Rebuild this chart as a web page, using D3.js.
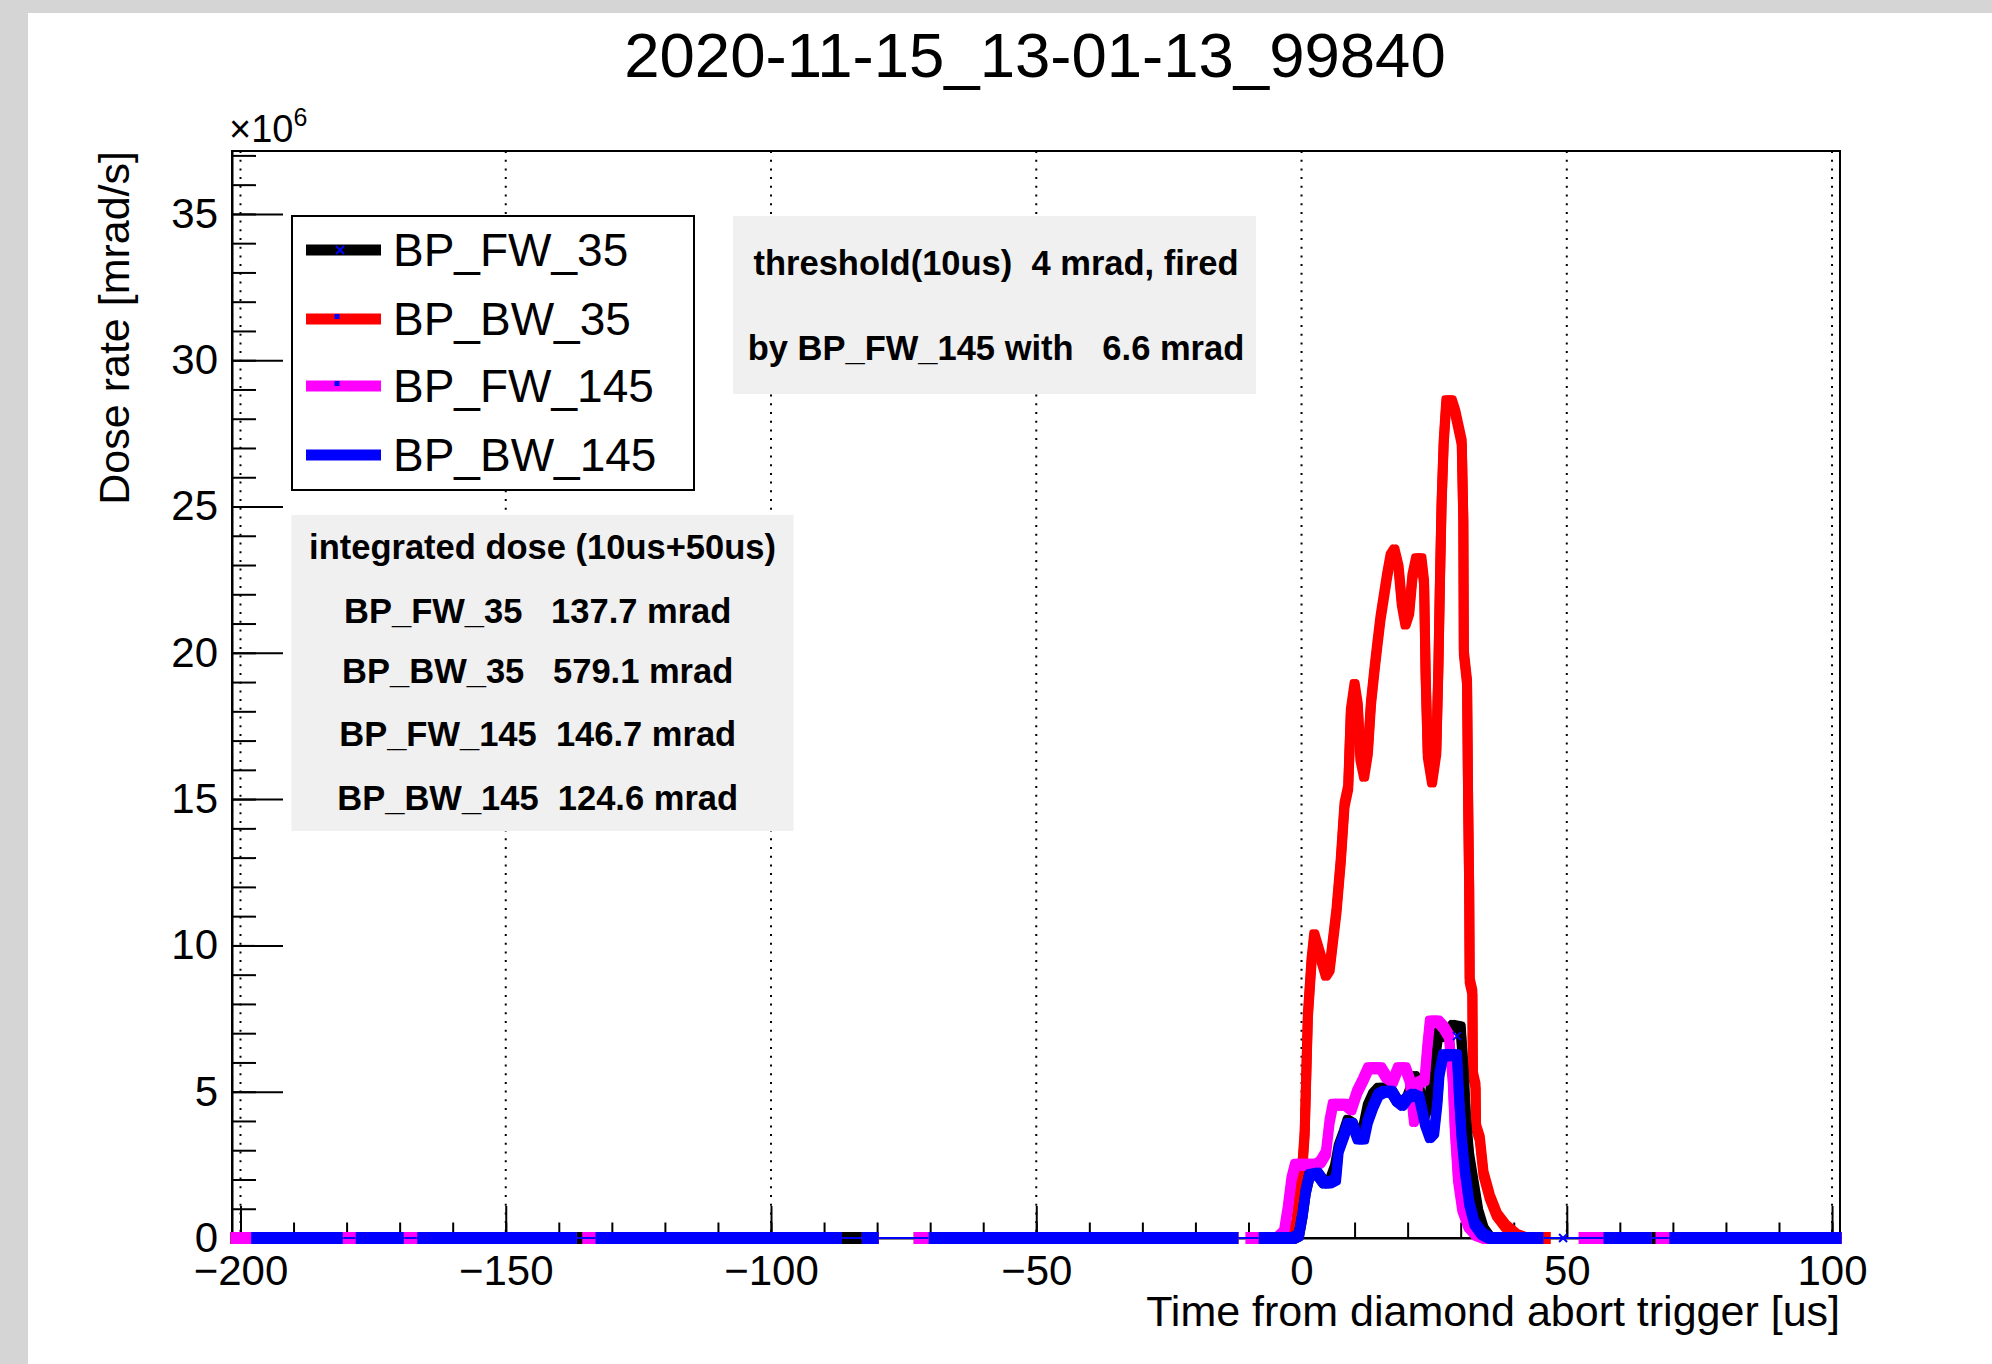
<!DOCTYPE html>
<html>
<head>
<meta charset="utf-8">
<script src="https://cdn.jsdelivr.net/npm/d3@7"></script>
<style>
  html, body { margin: 0; padding: 0; background: #d5d5d5; }
  svg { display: block; }
  text { font-family: "Liberation Sans", Arial, Helvetica, sans-serif; }
</style>
</head>
<body>
<svg id="chart" width="1992" height="1364"></svg>
<script>
// ---- labels ----
const chartTitle = "2020-11-15_13-01-13_99840";
const xTitle = "Time from diamond abort trigger [us]";
const yTitle = "Dose rate [mrad/s]";
const seriesNames = ["BP_FW_35", "BP_BW_35", "BP_FW_145", "BP_BW_145"];
const seriesColors = ["#000000", "#ff0000", "#ff00ff", "#0000ff"];
const xTicks = [-200, -150, -100, -50, 0, 50, 100];
const yTicks = [0, 5, 10, 15, 20, 25, 30, 35];
const thresholdLines = ["threshold(10us)  4 mrad, fired", "by BP_FW_145 with   6.6 mrad"];
const doseLines = [
  "integrated dose (10us+50us)",
  "BP_FW_35   137.7 mrad ",
  "BP_BW_35   579.1 mrad ",
  "BP_FW_145  146.7 mrad ",
  "BP_BW_145  124.6 mrad "
];

// ---- dose rate [10^6 mrad/s] vs time [us]; null marks a dropout ----
const bpFw35 = [
  [-201.6, 0], [-80, 0], [-76, null], [-72.8, 0], [-12.2, 0], [-10, null], [-7.8, 0],
  [-1.5, 0], [-0.5, 0.1], [0.2, 0.8], [0.8, 1.6], [1.5, 2.15], [3.0, 2.2], [4.2, 1.9],
  [5.4, 1.95], [6.3, 2.4], [7.0, 3.1], [8.0, 3.6], [8.7, 4.0], [9.6, 3.9], [10.6, 3.5],
  [11.6, 3.7], [12.5, 4.5], [13.5, 4.9], [14.5, 5.1], [15.6, 5.1], [17.0, 5.0], [18.0, 4.7],
  [19.0, 4.6], [20.0, 4.8], [21.4, 5.5], [22.3, 5.0], [23.2, 4.2], [24.0, 4.6], [25.0, 6.0],
  [25.8, 7.0], [26.5, 6.9], [27.6, 7.0], [28.5, 7.25], [30.0, 7.2], [30.6, 5.5], [31.0, 4.0],
  [31.6, 2.8], [32.5, 1.8], [33.3, 0.9], [34.3, 0.3], [35.5, 0],
  [45.3, 0], [49, null], [53, 0], [101.5, 0]
];
const bpBw35 = [
  [-201.6, 0], [-80, 0], [-76, null], [-72.8, 0], [-12.2, 0], [-10, null], [-7.8, 0],
  [-4, 0], [-2, 0.1], [-1, 0.5], [0.0, 2.0], [0.6, 3.6], [1.2, 7.6], [1.9, 9.5], [2.4, 10.35],
  [3.3, 9.8], [4.6, 9.0], [5.3, 9.2], [6.6, 11.2], [7.4, 12.9], [8.1, 14.8], [8.8, 15.4],
  [9.3, 18.0], [10.0, 18.9], [10.6, 18.2], [11.1, 16.4], [11.8, 15.8], [12.5, 16.6],
  [13.1, 18.3], [13.8, 19.5], [14.3, 20.3], [14.9, 21.2], [15.5, 21.9], [16.1, 22.6],
  [16.8, 23.3], [17.5, 23.5], [18.3, 22.9], [18.9, 21.7], [19.6, 21.0], [20.3, 21.4],
  [20.9, 22.6], [21.6, 23.2], [22.6, 23.2], [23.1, 22.4], [23.4, 19.2], [23.8, 16.5],
  [24.6, 15.6], [25.4, 16.6], [25.8, 19.5], [26.1, 22.5], [26.4, 25.1], [26.8, 27.2],
  [27.3, 28.6], [28.3, 28.6], [29.0, 28.2], [29.6, 27.7], [30.2, 27.2], [30.5, 24.5],
  [30.6, 20.0], [31.2, 19.0], [31.4, 15.0], [31.6, 12.0], [31.7, 8.8], [32.2, 8.4],
  [32.3, 5.6], [32.8, 5.2], [32.9, 3.8], [33.6, 3.4], [34.3, 2.2], [35.5, 1.4], [36.8, 0.8],
  [38.5, 0.4], [40.5, 0.1], [42, 0],
  [46.7, 0], [50, null], [53, 0], [101.5, 0]
];
const bpFw145 = [
  [-201.6, 0], [-136.9, 0], [-136, null], [-135.3, 0], [-86.9, 0], [-85, null], [-82.6, 0],
  [-80, 0], [-76, null], [-72.8, 0], [-12.2, 0], [-11, null], [-10.3, 0],
  [-4.5, 0], [-3.3, 0.2], [-2.6, 1.0], [-1.9, 2.0], [-1.2, 2.5], [2.8, 2.5], [3.6, 2.6],
  [4.6, 2.9], [5.3, 4.0], [5.9, 4.55], [8.4, 4.55], [9.4, 4.4], [10.5, 5.0], [11.6, 5.4],
  [12.6, 5.8], [15.0, 5.8], [16.0, 5.5], [17.2, 5.35], [18.2, 5.8], [19.6, 5.8], [20.4, 5.4],
  [21.2, 4.0], [22.0, 5.3], [23.2, 5.4], [23.7, 6.5], [24.2, 7.4], [25.8, 7.4], [26.8, 7.2],
  [27.8, 6.9], [28.5, 5.4], [28.9, 3.7], [29.5, 2.0], [30.3, 1.0], [31.5, 0.4], [33, 0.1],
  [34.5, 0],
  [45.3, 0], [49, null], [52.5, 0], [65.7, 0], [66.3, null], [67, 0], [101.5, 0]
];
const bpBw145 = [
  [-201.6, null], [-197.7, 0], [-181, 0], [-179.5, null], [-178, 0], [-169.5, 0], [-168, null],
  [-166.4, 0], [-136.9, 0], [-135, null], [-132.8, 0], [-86.9, 0], [-85, null], [-82.6, 0],
  [-80, 0], [-75, null], [-70, 0], [-12.2, 0], [-10, null], [-7.8, 0],
  [-1.5, 0], [-0.5, 0.1], [0.2, 0.8], [0.8, 1.6], [1.5, 2.15], [3.0, 2.2], [4.2, 1.9],
  [5.4, 1.9], [6.5, 2.0], [7.0, 3.0], [8.0, 3.5], [8.7, 3.9], [9.6, 3.9], [10.6, 3.4],
  [11.8, 3.4], [12.5, 4.0], [13.5, 4.5], [14.5, 4.9], [15.6, 5.0], [17.0, 5.0], [18.0, 4.7],
  [19.0, 4.55], [20.0, 4.8], [21.0, 4.9], [22.2, 4.8], [23.3, 3.9], [24.2, 3.45], [25.0, 3.6],
  [25.6, 4.6], [26.0, 5.6], [26.7, 6.25], [29.3, 6.25], [29.7, 4.8], [30.2, 3.4], [30.8, 2.3],
  [31.6, 1.2], [32.6, 0.5], [34, 0.15], [35.5, 0],
  [45.3, 0], [51, null], [57.2, 0], [65.7, 0], [67.5, null], [69.6, 0], [101.5, 0]
];
const seriesData = [bpFw35, bpBw35, bpFw145, bpBw145];
const drawOrder = [1, 0, 2, 3];
// trigger markers on BP_FW_35
const fw35Markers = [[29.3, 6.9], [49.3, 0]];

// ---- layout ----
const W = 1992, H = 1364;
const plot = { left: 232, top: 151, right: 1840, bottom: 1238 };
const svg = d3.select("#chart");

svg.append("rect").attr("width", W).attr("height", H).attr("fill", "#d5d5d5");
svg.append("rect").attr("x", 28).attr("y", 13).attr("width", W - 28).attr("height", H - 13).attr("fill", "#ffffff");

const x = d3.scaleLinear().domain([-201.6, 101.5]).range([plot.left, plot.right]);
const y = d3.scaleLinear().domain([0, 37.15]).range([plot.bottom, plot.top]);

// vertical dotted grid
svg.append("g").selectAll("line").data(xTicks).join("line")
  .attr("x1", d => x(d)).attr("x2", d => x(d))
  .attr("y1", plot.top).attr("y2", plot.bottom)
  .attr("stroke", "#000").attr("stroke-width", 2)
  .attr("stroke-dasharray", "2,6.7");

// frame
svg.append("rect")
  .attr("x", plot.left).attr("y", plot.top)
  .attr("width", plot.right - plot.left).attr("height", plot.bottom - plot.top)
  .attr("fill", "none").attr("stroke", "#000").attr("stroke-width", 2);

function styleAxis(g, size) {
  g.attr("font-size", size).attr("font-family", "'Liberation Sans', Arial, Helvetica, sans-serif");
  g.selectAll("line").attr("stroke", "#000").attr("stroke-width", 2);
  g.selectAll("path.domain").attr("stroke", "#000").attr("stroke-width", 2);
  g.selectAll("text").attr("fill", "#000");
}

// x axis: minor then major ticks
const gxMinor = svg.append("g").attr("transform", `translate(0,${plot.bottom})`)
  .call(d3.axisBottom(x).tickValues(d3.range(-200, 101, 10)).tickSizeInner(-15.5).tickSizeOuter(0).tickFormat(""));
gxMinor.select("path.domain").remove();
styleAxis(gxMinor, 10);

const gx = svg.append("g").attr("transform", `translate(0,${plot.bottom})`)
  .call(d3.axisBottom(x).tickValues(xTicks).tickSizeInner(-32).tickSizeOuter(0)
    .tickPadding(17).tickFormat(d3.format("d")));
styleAxis(gx, 42);

// y axis: minor then major ticks
const gyMinor = svg.append("g").attr("transform", `translate(${plot.left},0)`)
  .call(d3.axisLeft(y).tickValues(d3.range(0, 38, 1)).tickSizeInner(-24).tickSizeOuter(0).tickFormat(""));
gyMinor.select("path.domain").remove();
styleAxis(gyMinor, 10);

const gy = svg.append("g").attr("transform", `translate(${plot.left},0)`)
  .call(d3.axisLeft(y).tickValues(yTicks).tickSizeInner(-51).tickSizeOuter(0)
    .tickPadding(14).tickFormat(d3.format("d")));
styleAxis(gy, 42);

// exponent label
const expo = svg.append("text").attr("x", 229).attr("y", 142).attr("font-size", 38).attr("fill", "#000");
expo.append("tspan").text("\u00d710");
expo.append("tspan").attr("font-size", 25).attr("dy", -16).text("6");

// axis titles
svg.append("text").attr("x", plot.right).attr("y", 1326)
  .attr("text-anchor", "end").attr("font-size", 43).attr("fill", "#000").text(xTitle);
svg.append("text").attr("transform", `translate(129,${plot.top}) rotate(-90)`)
  .attr("text-anchor", "end").attr("font-size", 43).attr("fill", "#000").text(yTitle);

// chart title
svg.append("text").attr("x", 1035).attr("y", 77)
  .attr("text-anchor", "middle").attr("font-size", 63.5).attr("fill", "#000").text(chartTitle);

// ---- series (thick lines drawn with a rectangular pen: four offset strokes) ----
const line = d3.line()
  .defined(d => d[1] !== null)
  .x(d => x(d[0])).y(d => y(d[1]));

const penOffsets = [[-1.5, -2.5], [1.5, -2.5], [-1.5, 2.5], [1.5, 2.5]];
const gSeries = svg.append("g");
drawOrder.forEach(i => {
  const pathD = line(seriesData[i]);
  const gs = gSeries.append("g");
  penOffsets.forEach(([dx, dy]) => {
    gs.append("path")
      .attr("d", pathD)
      .attr("transform", `translate(${dx},${dy})`)
      .attr("fill", "none")
      .attr("stroke", seriesColors[i])
      .attr("stroke-width", 7)
      .attr("stroke-linejoin", "round")
      .attr("stroke-linecap", "butt");
  });
});

// thin connectors across dropouts
drawOrder.forEach(i => {
  let last = null, inGap = false;
  seriesData[i].forEach(d => {
    if (d[1] === null) { inGap = true; return; }
    if (inGap && last) {
      gSeries.append("line")
        .attr("x1", x(last[0]) + 2).attr("y1", y(last[1]))
        .attr("x2", x(d[0]) - 2).attr("y2", y(d[1]))
        .attr("stroke", seriesColors[i]).attr("stroke-width", 2);
    }
    inGap = false; last = d;
  });
});

// markers
const xMark = (cx, cy, r) => `M${cx - r},${cy - r}L${cx + r},${cy + r}M${cx - r},${cy + r}L${cx + r},${cy - r}`;
gSeries.selectAll("path.mk").data(fw35Markers).join("path")
  .attr("class", "mk")
  .attr("d", d => xMark(x(d[0]), y(d[1]), 4))
  .attr("stroke", "#0000ff").attr("stroke-width", 2).attr("fill", "none");

// ---- legend ----
const leg = { x: 292, y: 216, w: 402, h: 274 };
svg.append("rect").attr("x", leg.x).attr("y", leg.y).attr("width", leg.w).attr("height", leg.h)
  .attr("fill", "#fff").attr("stroke", "#000").attr("stroke-width", 2);
const legRows = [250, 319, 386, 455];
seriesNames.forEach((name, i) => {
  const ry = legRows[i];
  svg.append("line").attr("x1", 306).attr("x2", 381).attr("y1", ry).attr("y2", ry)
    .attr("stroke", seriesColors[i]).attr("stroke-width", 11);
  if (i === 0) {
    svg.append("path").attr("d", xMark(340, ry, 4)).attr("stroke", "#0000ff").attr("stroke-width", 2);
  } else if (i < 3) {
    svg.append("rect").attr("x", 334.5).attr("y", ry - 5).attr("width", 5).attr("height", 5).attr("fill", "#0000ff");
  }
  svg.append("text").attr("x", 393).attr("y", ry).attr("dy", "0.35em")
    .attr("font-size", 46).attr("fill", "#000").text(name);
});

// ---- info boxes ----
function infoBox(bx, by, bw, bh, lines, baselines, cx) {
  svg.append("rect").attr("x", bx).attr("y", by).attr("width", bw).attr("height", bh).attr("fill", "#f0f0f0");
  lines.forEach((t, i) => {
    svg.append("text").attr("x", cx).attr("y", baselines[i])
      .attr("text-anchor", "middle").attr("font-size", 34.5).attr("font-weight", "bold")
      .attr("fill", "#000").style("white-space", "pre").text(t);
  });
}
infoBox(733, 216, 523, 178, thresholdLines, [274.6, 359.6], 996);
infoBox(291.5, 515, 502, 316, doseLines, [558.6, 622.9, 683, 746.4, 809.5], 542.5);
</script>
</body>
</html>
